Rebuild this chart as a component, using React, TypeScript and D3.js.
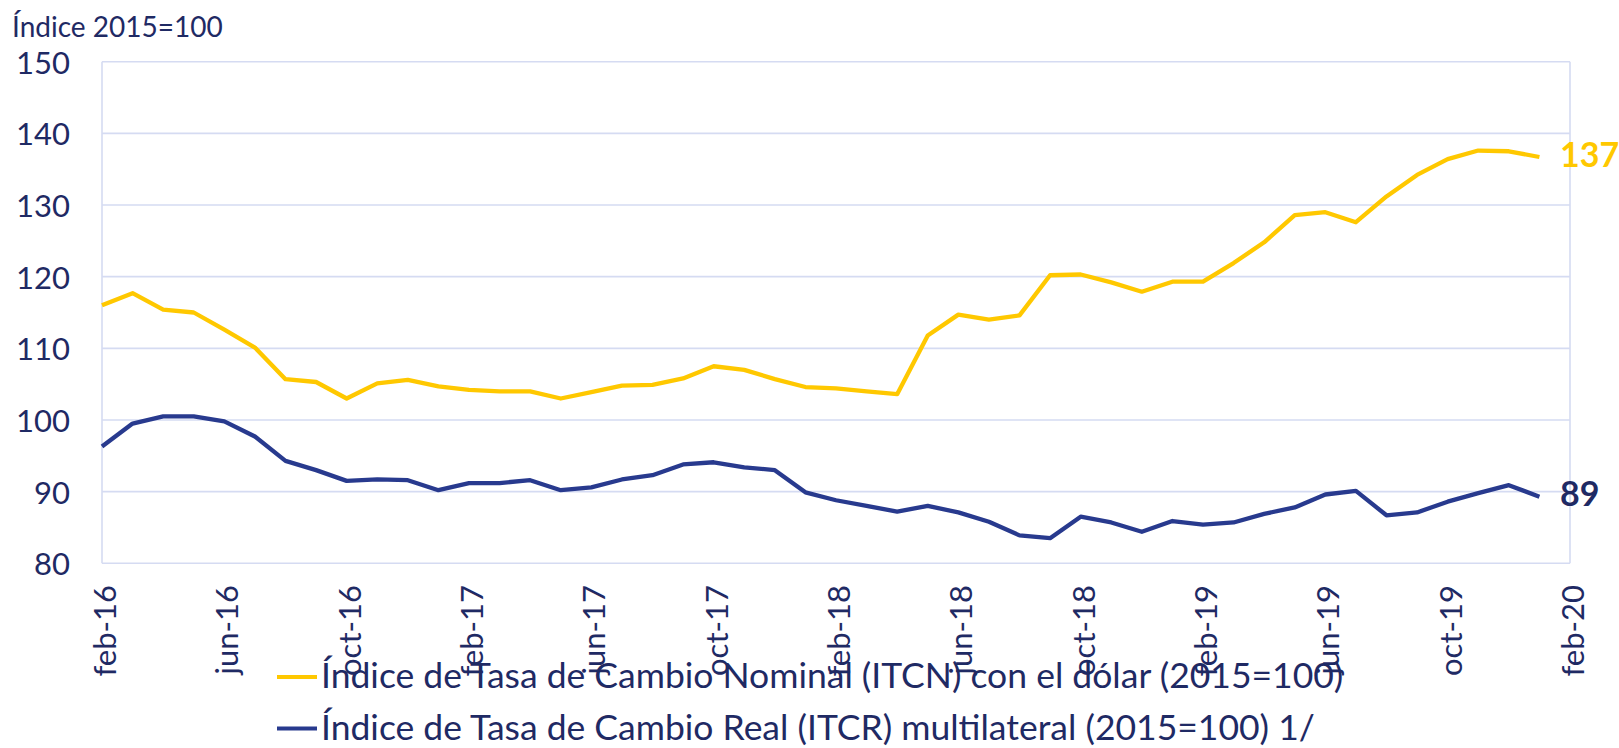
import React from "react";
import * as d3 from "d3";

// ---- Data ----
const months: string[] = [
  "feb-16","mar-16","abr-16","may-16","jun-16","jul-16","ago-16","sep-16","oct-16","nov-16","dic-16","ene-17",
  "feb-17","mar-17","abr-17","may-17","jun-17","jul-17","ago-17","sep-17","oct-17","nov-17","dic-17","ene-18",
  "feb-18","mar-18","abr-18","may-18","jun-18","jul-18","ago-18","sep-18","oct-18","nov-18","dic-18","ene-19",
  "feb-19","mar-19","abr-19","may-19","jun-19","jul-19","ago-19","sep-19","oct-19","nov-19","dic-19","ene-20",
];

const itcn: number[] = [
  116.0, 117.7, 115.4, 115.0, 112.6, 110.1, 105.7, 105.3, 103.0, 105.1, 105.6, 104.7,
  104.2, 104.0, 104.0, 103.0, 103.9, 104.8, 104.9, 105.8, 107.5, 107.0, 105.7, 104.6,
  104.4, 104.0, 103.6, 111.8, 114.7, 114.0, 114.6, 120.2, 120.3, 119.2, 117.9, 119.3,
  119.3, 121.9, 124.8, 128.6, 129.0, 127.6, 131.2, 134.2, 136.4, 137.6, 137.5, 136.7,
];

const itcr: number[] = [
  96.3, 99.5, 100.5, 100.5, 99.8, 97.7, 94.3, 93.0, 91.5, 91.7, 91.6, 90.2,
  91.2, 91.2, 91.6, 90.2, 90.6, 91.7, 92.3, 93.8, 94.1, 93.4, 93.0, 89.9,
  88.8, 88.0, 87.2, 88.0, 87.1, 85.8, 83.9, 83.5, 86.5, 85.7, 84.4, 85.9,
  85.4, 85.7, 86.9, 87.8, 89.6, 90.1, 86.7, 87.1, 88.6, 89.8, 90.9, 89.3,
];

const xTickLabels: string[] = [
  "feb-16","jun-16","oct-16","feb-17","jun-17","oct-17","feb-18","jun-18","oct-18","feb-19","jun-19","oct-19","feb-20",
];
const yTicks: number[] = [80, 90, 100, 110, 120, 130, 140, 150];

const seriesNames: string[] = [
  "Índice de Tasa de Cambio Nominal (ITCN) con el dólar (2015=100)",
  "Índice de Tasa de Cambio Real (ITCR) multilateral (2015=100) 1/",
];
const endLabels: string[] = ["137", "89"];
const yTitle = "Índice 2015=100";

// ---- Styles ----
const W = 1619;
const H = 748;
const FONT = "Lato, 'Noto Sans', sans-serif";
const TEXT = "#1F2A64";
const GRID = "#D5DBF2";
const YELLOW = "#FFC800";
const BLUE = "#283A8E";
const colors = [YELLOW, BLUE];
const labelColors = [YELLOW, "#1F2A64"];

export default function App() {
  const left = 102, right = 1570, top = 61.7, bottom = 563.3;
  const x = d3.scaleLinear().domain([0, months.length]).range([left, right]);
  const y = d3.scaleLinear().domain([80, 150]).range([bottom, top]);
  const line = d3
    .line<number>()
    .x((_, i) => x(i))
    .y((d) => y(d));
  const series = [itcn, itcr];

  return (
    <svg
      width={W}
      height={H}
      style={{ position: "absolute", left: 0, top: 0, display: "block", background: "#fff" }}
      fontFamily={FONT}
    >
      {/* gridlines */}
      {yTicks.map((t) => (
        <line key={t} x1={left} x2={right} y1={y(t)} y2={y(t)} stroke={GRID} strokeWidth={1.6} />
      ))}
      <line x1={left} x2={left} y1={top} y2={bottom} stroke={GRID} strokeWidth={1.6} />
      <line x1={right} x2={right} y1={top} y2={bottom} stroke={GRID} strokeWidth={1.6} />

      {/* y tick labels */}
      {yTicks.map((t) => (
        <text key={t} x={70} y={y(t)} textAnchor="end" dominantBaseline="central" fontSize={31} fill={TEXT}>
          {t}
        </text>
      ))}
      <text x={12} y={37} fontSize={28} fill={TEXT}>
        {yTitle}
      </text>

      {/* x tick labels */}
      {xTickLabels.map((lab, i) => (
        <text
          key={lab}
          transform={`translate(${x(i * 4) + 2},${585}) rotate(-90)`}
          textAnchor="end"
          dominantBaseline="central"
          fontSize={31}
          fill={TEXT}
        >
          {lab}
        </text>
      ))}

      {/* lines */}
      {series.map((s, k) => (
        <path key={k} d={line(s) || ""} fill="none" stroke={colors[k]} strokeWidth={4.3} strokeLinejoin="round" />
      ))}

      {/* end labels */}
      {series.map((s, k) => (
        <text
          key={k}
          x={1560}
          y={y(s[s.length - 1]) - 4}
          dominantBaseline="central"
          fontSize={34}
          fontWeight="bold"
          fill={labelColors[k]}
        >
          {endLabels[k]}
        </text>
      ))}

      {/* legend */}
      {seriesNames.map((name, k) => (
        <g key={k} transform={`translate(0,${k * 51.5})`}>
          <line x1={277} x2={317} y1={677} y2={677} stroke={colors[k]} strokeWidth={4} />
          <text x={321} y={688} fontSize={35.5} fill={TEXT}>
            {name}
          </text>
        </g>
      ))}
    </svg>
  );
}
